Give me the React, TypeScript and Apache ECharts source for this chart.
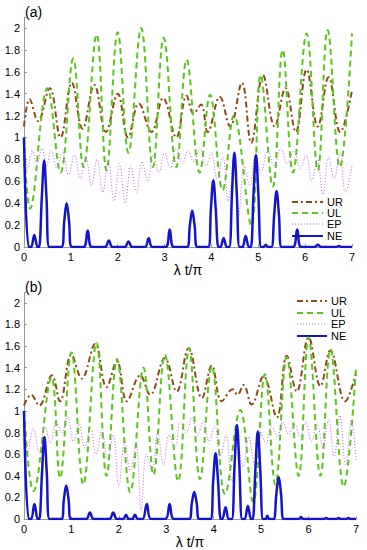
import React, { useEffect, useRef } from "react";
import * as echarts from "echarts";

// ---------- data (x = λt/π, y) ----------
const xTicks = [0, 1, 2, 3, 4, 5, 6, 7];
const seriesNames = ["UR", "UL", "EP", "NE"];

const urA: [number, number][] = [
  [0, 1.1], [0.12, 1.35], [0.3, 1.15], [0.55, 1.45], [0.78, 1.0], [1.02, 1.5], [1.25, 1.08],
  [1.5, 1.48], [1.75, 1.05], [2.0, 1.4], [2.22, 1.0], [2.45, 1.31], [2.72, 1.05], [2.97, 1.36],
  [3.25, 1.0], [3.47, 1.38], [3.62, 1.22], [3.78, 1.3], [3.92, 1.05], [4.18, 1.37], [4.4, 1.1],
  [4.65, 1.5], [4.85, 0.95], [5.1, 1.57], [5.35, 1.1], [5.58, 1.45], [5.8, 1.05], [6.03, 1.62],
  [6.27, 1.1], [6.5, 1.55], [6.75, 1.05], [7.0, 1.43],
];
const ulA: [number, number][] = [
  [0, 1.0], [0.13, 0.35], [0.5, 1.45], [0.78, 0.68], [1.05, 1.72], [1.27, 0.73], [1.55, 1.94],
  [1.76, 0.7], [2.0, 1.96], [2.23, 0.86], [2.5, 2.0], [2.75, 0.73], [2.98, 1.91], [3.25, 0.73],
  [3.47, 1.71], [3.75, 0.68], [3.97, 1.39], [4.24, 0.52], [4.48, 1.2], [4.85, 0.2], [5.05, 1.57],
  [5.31, 0.55], [5.52, 1.8], [5.74, 0.68], [6.03, 1.95], [6.27, 0.7], [6.48, 1.98], [6.74, 0.73],
  [7.0, 1.95],
];
const epA: [number, number][] = [
  [0, 1.0], [0.08, 0.72], [0.18, 0.88], [0.28, 0.76], [0.38, 0.9], [0.48, 0.74], [0.58, 0.88],
  [0.7, 0.72], [0.82, 0.86], [0.95, 0.66], [1.08, 0.84], [1.2, 0.62], [1.32, 0.82], [1.44, 0.56],
  [1.56, 0.8], [1.68, 0.5], [1.8, 0.78], [1.92, 0.42], [2.04, 0.76], [2.16, 0.4], [2.28, 0.74],
  [2.4, 0.5], [2.52, 0.78], [2.64, 0.6], [2.76, 0.84], [2.88, 0.68], [3.0, 0.86], [3.12, 0.72],
  [3.25, 0.9], [3.38, 0.76], [3.5, 0.88], [3.62, 0.78], [3.75, 0.9], [3.88, 0.74], [4.0, 0.86],
  [4.12, 0.62], [4.24, 0.82], [4.36, 0.42], [4.48, 0.78], [4.58, 0.28], [4.7, 0.74], [4.82, 0.56],
  [4.94, 0.84], [5.06, 0.68], [5.2, 0.88], [5.34, 0.74], [5.48, 0.9], [5.62, 0.76], [5.76, 0.88],
  [5.9, 0.72], [6.02, 0.84], [6.14, 0.6], [6.26, 0.8], [6.38, 0.48], [6.5, 0.82], [6.62, 0.62],
  [6.74, 0.86], [6.86, 0.5], [7.0, 0.74],
];
const neA: [number, number][] = [
  [0, 1.0], [0.1, 0], [0.15, 0], [0.22, 0.11], [0.29, 0], [0.32, 0], [0.38, 0.45], [0.43, 0.79],
  [0.48, 0.45], [0.54, 0], [0.8, 0], [0.86, 0.24], [0.91, 0.4], [0.96, 0.24], [1.02, 0],
  [1.27, 0], [1.36, 0.15], [1.45, 0], [1.73, 0], [1.81, 0.06], [1.89, 0], [2.15, 0], [2.23, 0.05],
  [2.31, 0], [2.58, 0], [2.66, 0.08], [2.74, 0], [3.02, 0], [3.11, 0.16], [3.2, 0], [3.48, 0],
  [3.54, 0.2], [3.59, 0.33], [3.64, 0.2], [3.7, 0], [3.93, 0], [3.99, 0.36], [4.04, 0.61],
  [4.09, 0.36], [4.15, 0], [4.19, 0], [4.26, 0.08], [4.33, 0], [4.38, 0], [4.44, 0.5],
  [4.49, 0.86], [4.54, 0.5], [4.6, 0], [4.66, 0], [4.73, 0.1], [4.8, 0], [4.84, 0], [4.9, 0.5],
  [4.95, 0.84], [5.0, 0.5], [5.06, 0], [5.11, 0], [5.16, 0.02], [5.21, 0], [5.28, 0], [5.34, 0.3],
  [5.39, 0.51], [5.44, 0.3], [5.5, 0], [5.74, 0], [5.83, 0.16], [5.92, 0], [6.2, 0], [6.27, 0.02],
  [6.34, 0], [6.66, 0], [6.72, 0.01], [6.78, 0], [7, 0],
];

const urB: [number, number][] = [
  [0, 1.05], [0.15, 1.15], [0.32, 1.05], [0.59, 1.33], [0.76, 1.09], [1.0, 1.52], [1.22, 1.3],
  [1.5, 1.62], [1.74, 1.22], [1.96, 1.46], [2.17, 1.09], [2.45, 1.33], [2.66, 1.15], [2.97, 1.49],
  [3.22, 1.18], [3.47, 1.58], [3.75, 1.12], [3.96, 1.42], [4.17, 1.09], [4.4, 1.2], [4.5, 1.15],
  [4.63, 1.24], [4.8, 1.06], [5.05, 1.32], [5.33, 0.94], [5.54, 1.51], [5.75, 1.18], [6.0, 1.68],
  [6.25, 1.23], [6.46, 1.56], [6.77, 1.09], [7.0, 1.35],
];
const ulB: [number, number][] = [
  [0, 1.0], [0.2, 0.26], [0.58, 1.31], [0.76, 0.38], [1.0, 1.54], [1.25, 0.32], [1.53, 1.63],
  [1.74, 0.4], [1.96, 1.48], [2.24, 0.25], [2.52, 1.4], [2.73, 0.41], [2.97, 1.52], [3.25, 0.35],
  [3.48, 1.58], [3.71, 0.37], [3.96, 1.41], [4.24, 0.23], [4.56, 1.01], [4.83, 0.16], [5.08, 1.34],
  [5.3, 0.32], [5.54, 1.5], [5.79, 0.4], [6.0, 1.68], [6.25, 0.4], [6.46, 1.57], [6.74, 0.3],
  [7.0, 1.4],
];
const epB: [number, number][] = [
  [0, 1.0], [0.08, 0.62], [0.2, 0.84], [0.32, 0.62], [0.44, 0.86], [0.56, 0.7], [0.68, 0.9],
  [0.8, 0.8], [0.92, 0.95], [1.04, 0.72], [1.16, 0.88], [1.28, 0.66], [1.4, 0.84], [1.52, 0.6],
  [1.64, 0.82], [1.76, 0.55], [1.88, 0.78], [2.0, 0.3], [2.12, 0.72], [2.24, 0.45], [2.36, 0.7],
  [2.47, 0.08], [2.58, 0.6], [2.7, 0.45], [2.82, 0.8], [2.94, 0.5], [3.06, 0.78], [3.18, 0.66],
  [3.3, 0.9], [3.42, 0.8], [3.54, 0.94], [3.66, 0.78], [3.78, 0.9], [3.9, 0.72], [4.02, 0.86],
  [4.14, 0.58], [4.26, 0.78], [4.38, 0.35], [4.5, 0.72], [4.62, 0.48], [4.74, 0.76], [4.86, 0.5],
  [4.98, 0.82], [5.1, 0.7], [5.22, 0.86], [5.34, 0.76], [5.46, 0.9], [5.58, 0.78], [5.7, 0.88],
  [5.82, 0.76], [5.94, 0.9], [6.06, 0.72], [6.18, 0.88], [6.3, 0.66], [6.42, 0.92], [6.54, 0.58],
  [6.66, 0.96], [6.78, 0.5], [6.9, 0.92], [7.0, 0.55],
];
const neB: [number, number][] = [
  [0, 1.0], [0.1, 0], [0.15, 0], [0.22, 0.14], [0.29, 0], [0.32, 0], [0.38, 0.43], [0.43, 0.76],
  [0.48, 0.43], [0.54, 0], [0.79, 0], [0.84, 0.18], [0.89, 0.31], [0.94, 0.18], [0.99, 0],
  [1.31, 0], [1.39, 0.06], [1.47, 0], [1.8, 0], [1.88, 0.06], [1.96, 0], [2.09, 0], [2.15, 0.04],
  [2.21, 0], [2.28, 0], [2.34, 0.04], [2.4, 0], [2.5, 0], [2.59, 0.14], [2.68, 0], [2.98, 0],
  [3.07, 0.14], [3.16, 0], [3.48, 0], [3.54, 0.15], [3.59, 0.25], [3.64, 0.15], [3.7, 0],
  [3.93, 0], [3.99, 0.36], [4.04, 0.61], [4.09, 0.36], [4.15, 0], [4.18, 0], [4.25, 0.11],
  [4.32, 0], [4.38, 0], [4.44, 0.5], [4.49, 0.87], [4.54, 0.5], [4.6, 0], [4.65, 0], [4.72, 0.12],
  [4.79, 0], [4.82, 0], [4.88, 0.47], [4.93, 0.81], [4.98, 0.47], [5.04, 0], [5.09, 0],
  [5.13, 0.03], [5.17, 0], [5.26, 0], [5.32, 0.23], [5.37, 0.39], [5.42, 0.23], [5.48, 0],
  [5.79, 0], [5.84, 0.02], [5.89, 0], [6.32, 0], [6.37, 0.01], [6.42, 0], [6.58, 0], [6.63, 0.01],
  [6.68, 0], [6.79, 0], [6.84, 0.01], [6.89, 0], [7, 0],
];

// ---------- styles ----------
const FONT = "'Liberation Sans', Arial, Helvetica, sans-serif";
const STYLES: Record<string, { color: string; width: number; dash: number[] | null }> = {
  UR: { color: "#8a4b16", width: 2, dash: [6, 3, 2, 3] },
  UL: { color: "#5cc41a", width: 2, dash: [6, 4] },
  EP: { color: "#c35ee6", width: 1, dash: [1, 2] },
  NE: { color: "#1515c8", width: 2.5, dash: null },
};

function makeAxes(gridIndex: number) {
  const x = {
    type: "value",
    gridIndex,
    min: 0,
    max: 7,
    interval: 1,
    name: "λ t/π",
    nameLocation: "middle",
    nameGap: 15,
    nameTextStyle: { fontSize: 14, color: "#000", fontFamily: FONT },
    axisLine: { show: true, onZero: false, lineStyle: { color: "#999", width: 1 } },
    axisTick: { show: true, inside: true, length: 3, lineStyle: { color: "#999" } },
    axisLabel: {
      fontSize: 11, color: "#000", fontFamily: FONT, margin: 4,
      formatter: (v: number) => (xTicks.includes(v) ? String(v) : ""),
    },
    splitLine: { show: false },
  };
  const y = {
    type: "value",
    gridIndex,
    min: 0,
    max: 2.1,
    interval: 0.2,
    axisLine: { show: true, lineStyle: { color: "#999", width: 1 } },
    axisTick: { show: true, inside: true, length: 3, lineStyle: { color: "#999" } },
    axisLabel: {
      fontSize: 11, color: "#000", fontFamily: FONT, margin: 4,
      formatter: (v: number) => {
        const k = Math.round(v * 5);
        if (Math.abs(v * 5 - k) > 1e-6) return "";
        return String(Math.round(k * 2) / 10);
      },
    },
    splitLine: { show: false },
  };
  return { x, y };
}

function makeSeries(idx: number, ur: any, ul: any, ep: any, ne: any) {
  const base = { type: "line", xAxisIndex: idx, yAxisIndex: idx, symbol: "none", smooth: 0.4, clip: true };
  const mk = (name: string, data: any, extra: any = {}) => {
    const s = STYLES[name];
    return {
      ...base, name, data, ...extra,
      lineStyle: { color: s.color, width: s.width, type: s.dash ?? "solid" },
      itemStyle: { color: s.color },
    };
  };
  return [mk("UR", ur), mk("UL", ul), mk("EP", ep), mk("NE", ne, { smooth: 0.4 })];
}

function legendGraphic(x1: number, x2: number, tx: number, rows: number[]) {
  const els: any[] = [];
  seriesNames.forEach((name, i) => {
    const s = STYLES[name];
    els.push({
      type: "line",
      shape: { x1, y1: rows[i], x2, y2: rows[i] },
      style: { stroke: s.color, lineWidth: s.width === 2.5 ? 2 : s.width, lineDash: s.dash ?? undefined },
    });
    els.push({
      type: "text",
      x: tx,
      y: rows[i],
      style: { text: name, fontSize: 11, fill: "#000", fontFamily: FONT, textVerticalAlign: "middle", verticalAlign: "middle" },
    });
  });
  return els;
}

export default function App() {
  const ref = useRef<HTMLDivElement>(null);
  useEffect(() => {
    if (!ref.current) return;
    const chart = echarts.init(ref.current, undefined, { renderer: "svg" });
    const a = makeAxes(0);
    const b = makeAxes(1);
    chart.setOption({
      animation: false,
      backgroundColor: "#fff",
      grid: [
        { left: 24, top: 17, width: 328, height: 230 },
        { left: 24, top: 292, width: 332, height: 228 },
      ],
      xAxis: [a.x, b.x],
      yAxis: [a.y, b.y],
      graphic: [
        { type: "text", left: 25, top: 5, style: { text: "(a)", fontSize: 14, fill: "#000", fontFamily: FONT } },
        { type: "text", left: 25, top: 280, style: { text: "(b)", fontSize: 14, fill: "#000", fontFamily: FONT } },
        ...legendGraphic(292, 323, 327, [202, 213, 224, 236]),
        ...legendGraphic(297, 327, 331, [301, 313, 324, 336]),
      ],
      series: [...makeSeries(0, urA, ulA, epA, neA), ...makeSeries(1, urB, ulB, epB, neB)],
    });
    return () => chart.dispose();
  }, []);
  return (
    <div
      ref={ref}
      style={{ position: "fixed", left: 0, top: 0, width: 367, height: 550, background: "#fff" }}
    />
  );
}
